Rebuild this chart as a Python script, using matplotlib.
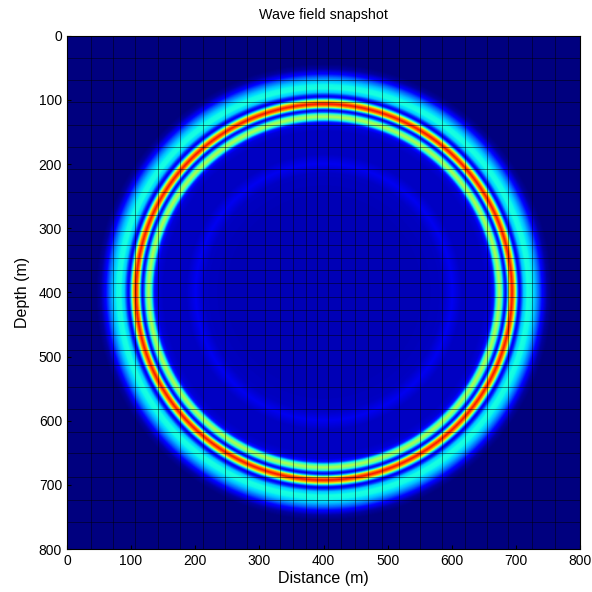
import numpy as np
import matplotlib.pyplot as plt

plt.rcParams['font.family'] = ['Liberation Sans', 'DejaVu Sans']

# radial amplitude profile of the snapshot (radius from source in m, normalised value)
radius_m = [0, 150, 185, 200, 215, 250, 260, 265, 269, 273, 277, 280, 283,
            286, 289, 293, 297, 301, 304, 307, 311, 317, 323, 329, 335,
            341, 348, 356, 800]
amplitude = [0.05, 0.05, 0.06, 0.10, 0.06, 0.06, 0.08, 0.16, 0.42, 0.57, 0.45, 0.22, 0.10,
             0.30, 0.72, 0.90, 0.72, 0.30, 0.10, 0.16, 0.32, 0.38, 0.37, 0.31, 0.22,
             0.11, 0.03, 0.0, 0.0]
source_x = 400
source_z = 400

# mesh edge lines of the model grid (m)
grid_x = [37, 72, 106, 142, 177, 212, 247, 280, 308, 332, 352, 372, 390,
          407, 428, 449, 470, 491, 517, 551, 585, 621, 655, 688, 725, 761]
grid_z = [35, 69, 104, 139, 173, 208, 244, 279, 305, 326, 347, 365, 386,
          407, 427, 445, 466, 490, 513, 547, 581, 617, 651, 688, 724, 758]

x = np.linspace(0, 800, 801)
z = np.linspace(0, 800, 801)
X, Z = np.meshgrid(x, z)
R = np.hypot(X - source_x, Z - source_z)
field = np.interp(R, radius_m, amplitude)

fig = plt.figure(figsize=(5.92, 5.92), dpi=100)
ax = fig.add_axes([0.113, 0.0726, 0.867, 0.867])

ax.imshow(field, cmap='jet', vmin=0, vmax=1, extent=[0, 800, 800, 0],
          origin='upper', interpolation='bilinear', aspect='auto')
for gx in grid_x:
    ax.axvline(gx, color='black', linewidth=0.72, alpha=0.45, snap=True)
for gz in grid_z:
    ax.axhline(gz, color='black', linewidth=0.72, alpha=0.45, snap=True)

ax.set_xlim(0, 800)
ax.set_ylim(800, 0)
ax.set_xticks(np.arange(0, 801, 100))
ax.set_yticks(np.arange(0, 801, 100))
ax.tick_params(direction='in', length=3, labelsize=10)
ax.set_xlabel('Distance (m)', fontsize=11.5, labelpad=2)
ax.set_ylabel('Depth (m)', fontsize=11.5, labelpad=6)
ax.set_title('Wave field snapshot', fontsize=10.3, pad=12)

fig.savefig('out.png', dpi=100)
